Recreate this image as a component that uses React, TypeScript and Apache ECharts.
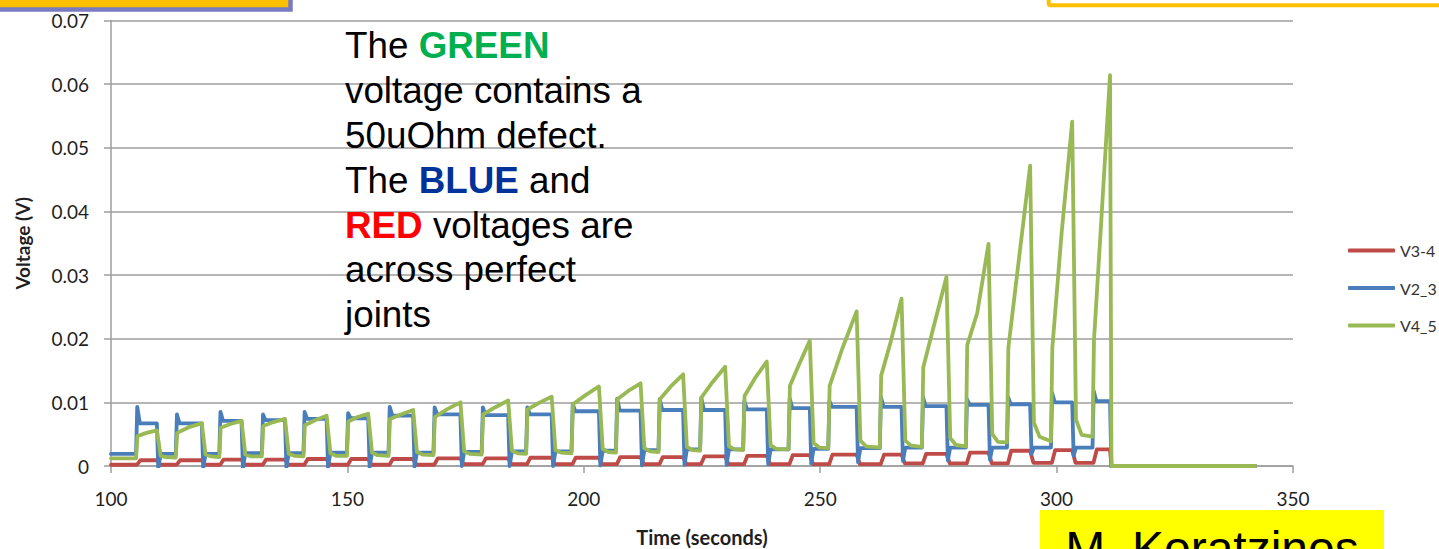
import React, { useEffect, useRef } from "react";
import * as echarts from "echarts";

// Series names as they appear in the legend (drawing order: red, blue, green on top)
const seriesNames = ["V3-4", "V2_3", "V4_5"];
const seriesColors = ["#BE4B48", "#4A7EBB", "#98B954"];

// Axis ranges
const xMin = 100;
const xMax = 350;
const xStep = 50;
const yMin = 0;
const yMax = 0.07;
const yStep = 0.01;

// Current pulses: switch-on and switch-off times (s)
const pulseOn = [
  105.3, 113.7, 122.9, 131.9, 140.7, 149.9, 158.7, 168.2, 178.4, 187.8, 197.4, 206.8,
  215.8, 224.6, 233.7, 243.3, 251.7, 262.6, 271.5, 280.8, 289.5, 298.8, 307.6,
];
const pulseOff = [
  109.7, 119.2, 127.6, 136.8, 145.6, 154.4, 163.9, 173.9, 184.0, 193.2, 203.2, 212.0,
  221.0, 229.9, 238.7, 247.8, 257.7, 267.2, 276.7, 285.6, 294.4, 303.3, 311.3,
];
const tripTime = 311.6; // every voltage collapses to zero
const recordEnd = 342;

// V4_5 (joint with the 50 uOhm defect), volts
const greenFloor = [
  0.0012, 0.0013, 0.0014, 0.0015, 0.0015, 0.0016, 0.0016, 0.0017, 0.0018, 0.0019, 0.002, 0.0021,
  0.0022, 0.0024, 0.0025, 0.0026, 0.0028, 0.0029, 0.003, 0.0031, 0.0037, 0.0039, 0.0046,
];
const greenJump = [
  0.0047, 0.0052, 0.006, 0.0063, 0.0064, 0.007, 0.0074, 0.0077, 0.0081, 0.0089, 0.0097, 0.0105,
  0.0105, 0.0108, 0.011, 0.0126, 0.0126, 0.0142, 0.0155, 0.019, 0.0186, 0.0186, 0.0197,
];
const greenMid = [
  0.0052, 0.0061, 0.0066, 0.0069, 0.0072, 0.0077, 0.0081, 0.0089, 0.0092, 0.0099, 0.0111, 0.0118,
  0.0125, 0.0132, 0.0138, 0.016, 0.0185, 0.0195, 0.0222, 0.024, 0.032, 0.0365, 0.0385,
];
const greenPeak = [
  0.0056, 0.0067, 0.0071, 0.0074, 0.0079, 0.0082, 0.0088, 0.01, 0.0103, 0.0109, 0.0125, 0.013,
  0.0144, 0.0156, 0.0164, 0.0197, 0.0243, 0.0263, 0.0297, 0.0349, 0.0472, 0.0541, 0.0614,
];
const greenDrop = [
  0.0016, 0.0018, 0.0018, 0.0019, 0.002, 0.0021, 0.0022, 0.0023, 0.0024, 0.0025, 0.0027, 0.0028,
  0.003, 0.0031, 0.0033, 0.0036, 0.004, 0.004, 0.0044, 0.005, 0.0068, 0.0073,
];
const greenSettle = [
  0.0014, 0.0015, 0.0015, 0.0016, 0.0016, 0.0017, 0.0018, 0.0019, 0.002, 0.0021, 0.0022, 0.0023,
  0.0025, 0.0026, 0.0027, 0.0029, 0.0031, 0.0032, 0.0033, 0.0038, 0.0046, 0.0049,
];

// V2_3 (perfect joint), volts
const blueBase = [
  0.0019, 0.0019, 0.0019, 0.002, 0.002, 0.0021, 0.0021, 0.0021, 0.0022, 0.0023, 0.0023, 0.0024,
  0.0025, 0.0026, 0.0026, 0.0026, 0.0027, 0.0028, 0.0029, 0.0029, 0.0029, 0.0029, 0.0029,
];
const blueSpike = [
  0.0093, 0.0081, 0.0085, 0.0081, 0.0085, 0.0083, 0.0093, 0.0092, 0.0092, 0.0092, 0.0097, 0.0106,
  0.0105, 0.0107, 0.0102, 0.0106, 0.0102, 0.0108, 0.0108, 0.0105, 0.0108, 0.0115, 0.0118,
];
const bluePlateau = [
  0.0067, 0.0067, 0.0071, 0.0072, 0.0074, 0.0075, 0.0079, 0.0081, 0.008, 0.0081, 0.0086, 0.0087,
  0.0088, 0.0088, 0.0089, 0.0091, 0.0093, 0.0093, 0.0094, 0.0096, 0.0097, 0.01, 0.0102,
];
const blueDip = [
  -0.0004, -0.0003, -0.0003, -0.0002, -0.0002, -0.0002, -0.0001, 0.0, 0.0, 0.0, 0.0001, 0.0001,
  0.0002, 0.0002, 0.0003, 0.0004, 0.0006, 0.0008, 0.0009, 0.001, 0.0019, 0.0016, -0.0005,
];

// V3-4 (perfect joint), volts
const redBase = [
  0.0002, 0.0002, 0.0002, 0.0002, 0.0002, 0.0002, 0.0002, 0.0002, 0.0003, 0.0003, 0.0003, 0.0003,
  0.0003, 0.0003, 0.0003, 0.0003, 0.0003, 0.0003, 0.0004, 0.0004, 0.0004, 0.0005, 0.0005,
];
const redHigh = [
  0.0009, 0.0009, 0.001, 0.001, 0.0011, 0.0011, 0.0011, 0.0012, 0.0012, 0.0013, 0.0013, 0.0014,
  0.0014, 0.0015, 0.0016, 0.0017, 0.0018, 0.0018, 0.0019, 0.0021, 0.0024, 0.0025, 0.0026,
];

type Pt = [number, number];

function greenTrace(): Pt[] {
  const pts: Pt[] = [[xMin, greenFloor[0]]];
  const last = pulseOn.length - 1;
  pulseOn.forEach((on, i) => {
    const off = pulseOff[i];
    pts.push([on, greenFloor[i]]);
    pts.push([on + 0.3, greenJump[i]]);
    pts.push([(on + off) / 2, greenMid[i]]);
    pts.push([off, greenPeak[i]]);
    if (i < last) {
      pts.push([off + 0.8, greenDrop[i]]);
      pts.push([off + 2.0, greenSettle[i]]);
    }
  });
  pts.push([tripTime, 0], [recordEnd, 0]);
  return pts;
}

function blueTrace(): Pt[] {
  const pts: Pt[] = [[xMin, blueBase[0]]];
  const last = pulseOn.length - 1;
  pulseOn.forEach((on, i) => {
    const off = pulseOff[i];
    pts.push([on, blueBase[i]]);
    pts.push([on + 0.25, blueSpike[i]]);
    pts.push([on + 0.8, bluePlateau[i]]);
    pts.push([off, bluePlateau[i]]);
    pts.push([off + 0.3, blueDip[i]]);
    if (i < last) pts.push([off + 0.8, blueBase[i + 1]]);
  });
  pts.push([tripTime + 0.5, 0], [recordEnd, 0]);
  return pts;
}

function redTrace(): Pt[] {
  const pts: Pt[] = [[xMin, redBase[0]]];
  const last = pulseOn.length - 1;
  pulseOn.forEach((on, i) => {
    const off = pulseOff[i];
    pts.push([on + 0.2, redBase[i]]);
    pts.push([on + 0.9, redHigh[i]]);
    pts.push([off, redHigh[i]]);
    if (i < last) pts.push([off + 0.7, redBase[i + 1]]);
  });
  pts.push([tripTime, 0], [recordEnd, 0]);
  return pts;
}

const gridGray = "#9e9e9e";
const tickFont = "Lato";
const noteFont = "Liberation Sans";
const noteSize = 36.8;
const noteLine = 44.8;

export default function App() {
  const ref = useRef<HTMLDivElement>(null);

  useEffect(() => {
    if (!ref.current) return;
    const chart = echarts.init(ref.current, null, { renderer: "svg" });
    const traces = [redTrace(), blueTrace(), greenTrace()];

    chart.setOption({
      animation: false,
      backgroundColor: "#ffffff",
      grid: {
        left: 111,
        right: 146,
        top: 20.5,
        bottom: 83,
        containLabel: false,
        outerBoundsMode: "none",
      },
      xAxis: {
        type: "value",
        min: xMin,
        max: xMax,
        interval: xStep,
        name: "Time (seconds)",
        nameLocation: "middle",
        nameGap: 61,
        nameTextStyle: { fontFamily: tickFont, fontWeight: "bold", fontSize: 20, color: "#1f1f1f" },
        axisLine: { show: true, onZero: false, lineStyle: { color: gridGray, width: 1.5 } },
        axisTick: { show: true, length: 7, lineStyle: { color: gridGray, width: 1.5 } },
        axisLabel: { margin: 23, fontFamily: tickFont, fontSize: 19, color: "#1f1f1f" },
        splitLine: { show: false },
      },
      yAxis: {
        type: "value",
        min: yMin,
        max: yMax,
        interval: yStep,
        name: "Voltage (V)",
        nameLocation: "middle",
        nameRotate: 90,
        nameGap: 79,
        nameTextStyle: { fontFamily: tickFont, fontWeight: "bold", fontSize: 19, color: "#1f1f1f" },
        axisLine: { show: true, lineStyle: { color: gridGray, width: 1.5 } },
        axisTick: { show: true, length: 7, lineStyle: { color: gridGray, width: 1.5 } },
        axisLabel: {
          margin: 22,
          fontFamily: tickFont,
          fontSize: 19,
          color: "#1f1f1f",
          formatter: (v: number) => (v === 0 ? "0" : v.toFixed(2)),
        },
        splitLine: { show: true, lineStyle: { color: gridGray, width: 1.5 } },
      },
      legend: {
        data: seriesNames,
        orient: "vertical",
        left: 1343,
        top: 237.5,
        itemWidth: 47,
        itemHeight: 4,
        itemGap: 21.5,
        icon: "roundRect",
        selectedMode: false,
        textStyle: { fontFamily: tickFont, fontSize: 16, color: "#333333" },
      },
      series: seriesNames.map((name, k) => ({
        name,
        type: "line",
        data: traces[k],
        showSymbol: false,
        symbol: "none",
        color: seriesColors[k],
        lineStyle: { color: seriesColors[k], width: 3.8, join: "round", cap: "round" },
        clip: true,
        z: 2 + k,
      })),
      graphic: [
        {
          type: "rect",
          shape: { x: -10, y: -10, width: 300.5, height: 19.5 },
          style: { fill: "#FFC000", stroke: "#7A7AC2", lineWidth: 4.5 },
          z: 10,
        },
        {
          type: "rect",
          shape: { x: 1048.7, y: -10, width: 500, height: 15.3, r: 2 },
          style: { fill: "#ffffff", stroke: "#FFC000", lineWidth: 4 },
          z: 10,
        },
        {
          type: "text",
          x: 345,
          y: 23.5,
          z: 10,
          style: {
            text:
              "The {g|GREEN}\nvoltage contains a\n50uOhm defect.\nThe {b|BLUE} and\n{r|RED} voltages are\nacross perfect\njoints",
            fontFamily: noteFont,
            fontSize: noteSize,
            lineHeight: noteLine,
            fill: "#000000",
            verticalAlign: "top",
            rich: {
              g: { fill: "#00B050", fontWeight: "bold", fontFamily: noteFont, fontSize: noteSize, lineHeight: noteLine },
              b: { fill: "#003399", fontWeight: "bold", fontFamily: noteFont, fontSize: noteSize, lineHeight: noteLine },
              r: { fill: "#FF0000", fontWeight: "bold", fontFamily: noteFont, fontSize: noteSize, lineHeight: noteLine },
            },
          },
        },
        {
          type: "rect",
          shape: { x: 1040, y: 510, width: 344, height: 60 },
          style: { fill: "#FFFF00" },
          z: 10,
        },
        {
          type: "text",
          x: 1212,
          y: 548,
          z: 11,
          style: {
            text: "M. Koratzinos",
            fontFamily: noteFont,
            fontSize: 48,
            fill: "#000000",
            align: "center",
            verticalAlign: "middle",
          },
        },
      ],
    });

    return () => chart.dispose();
  }, []);

  return (
    <div
      ref={ref}
      style={{ position: "fixed", left: 0, top: 0, width: 1439, height: 549, background: "#ffffff" }}
    />
  );
}
